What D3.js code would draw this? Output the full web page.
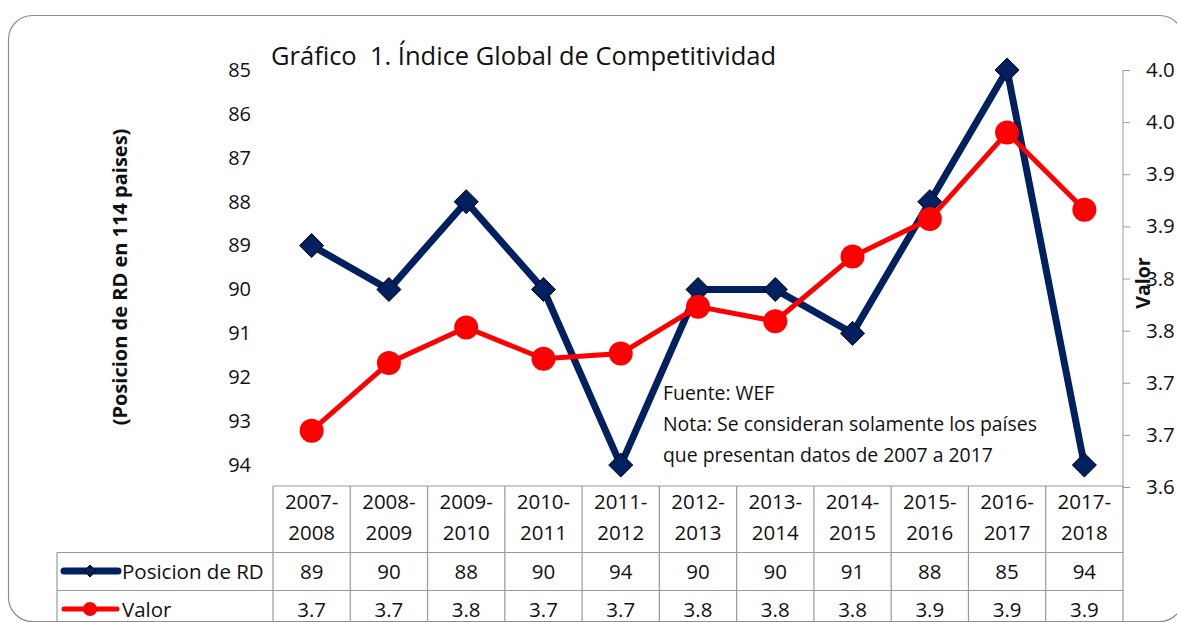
<!DOCTYPE html>
<html lang="es">
<head>
<meta charset="UTF-8" />
<title>Índice Global de Competitividad</title>
<script src="https://d3js.org/d3.v7.min.js"></script>
<style>
  body { margin: 0; background: #fff; }
  svg { font-family: "Open Sans", "Noto Sans", sans-serif; }
</style>
</head>
<body>
<script>
// datos
const periodos = ["2007-2008", "2008-2009", "2009-2010", "2010-2011", "2011-2012", "2012-2013",
                  "2013-2014", "2014-2015", "2015-2016", "2016-2017", "2017-2018"];
const posicion = [89, 90, 88, 90, 94, 90, 90, 91, 88, 85, 94];
const valor = [3.654, 3.719, 3.753, 3.723, 3.728, 3.773, 3.759, 3.821, 3.857, 3.940, 3.866];
const posTicks = [85, 86, 87, 88, 89, 90, 91, 92, 93, 94];
const valTicks = [3.6, 3.65, 3.7, 3.75, 3.8, 3.85, 3.9, 3.95, 4.0];
const valTickLabels = ["3.6", "3.7", "3.7", "3.8", "3.8", "3.9", "3.9", "4.0", "4.0"];

const W = 1177, H = 622;
const navy = "#002060", red = "#ff0000", grid = "#9a9a9a";
const fs = 20.5;

const svg = d3.select("body").append("svg").attr("width", W).attr("height", H);

// marco redondeado
svg.append("rect")
  .attr("x", 8.5).attr("y", 15.5).attr("width", 1175).attr("height", 606)
  .attr("rx", 24).attr("fill", "none").attr("stroke", "#8c8c8c").attr("stroke-width", 1.2);

const x = d3.scaleBand().domain(periodos).range([273, 1123]);
const yL = d3.scaleLinear().domain([85, 94.5]).range([70, 487]);
const yR = d3.scaleLinear().domain([3.6, 4.0]).range([487, 70]);

// titulo
svg.append("text").attr("x", 271).attr("y", 65)
  .attr("font-size", 25.5).attr("fill", "#111")
  .attr("xml:space", "preserve")
  .text("Gráfico  1. Índice Global de Competitividad");

// eje izquierdo (sin linea)
const axL = svg.append("g").attr("transform", "translate(273,0)")
  .call(d3.axisLeft(yL).tickValues(posTicks).tickSize(0).tickPadding(22));
axL.select(".domain").remove();
axL.selectAll("text").attr("font-size", 20).attr("font-family", "'Open Sans', sans-serif").attr("fill", "#111");

svg.append("text")
  .attr("transform", "translate(127,277) rotate(-90)")
  .attr("text-anchor", "middle").attr("font-size", 20).attr("font-weight", "bold")
  .attr("fill", "#111")
  .text("(Posicion de RD en 114 paises)");

// eje derecho
const axR = svg.append("g").attr("transform", "translate(1123,0)")
  .call(d3.axisRight(yR).tickValues(valTicks).tickSize(7).tickPadding(16)
    .tickFormat((d, i) => valTickLabels[i]));
axR.select(".domain").attr("stroke", grid).attr("d", "M0,70V487");
axR.selectAll("line").attr("stroke", grid);
axR.selectAll("text").attr("font-size", 20.5).attr("font-family", "'Open Sans', sans-serif").attr("fill", "#111");

svg.append("text")
  .attr("transform", "translate(1150,283) rotate(-90)")
  .attr("text-anchor", "middle").attr("font-size", 19.5).attr("font-weight", "bold")
  .attr("fill", "#111")
  .text("Valor");

// nota
const nota = ["Fuente: WEF", "Nota: Se consideran solamente los países", "que presentan datos de 2007 a 2017"];
svg.append("g").selectAll("text").data(nota).join("text")
  .attr("x", 663).attr("y", (d, i) => 400 + i * 31)
  .attr("font-size", 19.4).attr("fill", "#111")
  .text(d => d);

const cx = d => x(d) + x.bandwidth() / 2;

// serie posicion
svg.append("path")
  .datum(posicion)
  .attr("fill", "none").attr("stroke", navy).attr("stroke-width", 7).attr("stroke-linejoin", "miter")
  .attr("d", d3.line().x((d, i) => cx(periodos[i])).y(d => yL(d)));

svg.append("g").selectAll("path").data(posicion).join("path")
  .attr("transform", (d, i) => `translate(${cx(periodos[i])},${yL(d)})`)
  .attr("d", "M0,-12L12,0L0,12L-12,0Z")
  .attr("fill", navy).attr("stroke", "#000").attr("stroke-width", 1);

// serie valor
svg.append("path")
  .datum(valor)
  .attr("fill", "none").attr("stroke", red).attr("stroke-width", 5)
  .attr("d", d3.line().x((d, i) => cx(periodos[i])).y(d => yR(d)));

svg.append("g").selectAll("circle").data(valor).join("circle")
  .attr("cx", (d, i) => cx(periodos[i])).attr("cy", d => yR(d)).attr("r", 12)
  .attr("fill", red);

// tabla de datos
const tabla = svg.append("g").attr("stroke", grid).attr("stroke-width", 1.2).attr("fill", "none");
const filas = [486, 552.5, 590.5, 630];
tabla.append("line").attr("x1", 273).attr("x2", 1123).attr("y1", filas[0]).attr("y2", filas[0]);
[filas[1], filas[2]].forEach(yy =>
  tabla.append("line").attr("x1", 57).attr("x2", 1123).attr("y1", yy).attr("y2", yy));
tabla.append("line").attr("x1", 57).attr("x2", 57).attr("y1", filas[1]).attr("y2", filas[3]);
periodos.forEach(p =>
  tabla.append("line").attr("x1", x(p)).attr("x2", x(p)).attr("y1", filas[0]).attr("y2", filas[3]));
tabla.append("line").attr("x1", 1123).attr("x2", 1123).attr("y1", filas[0]).attr("y2", filas[3]);

const celdas = svg.append("g").attr("font-size", fs).attr("fill", "#111").attr("text-anchor", "middle");
periodos.forEach((p, i) => {
  const [a, b] = p.split("-");
  celdas.append("text").attr("x", cx(p)).attr("y", 508.5).text(a + "-");
  celdas.append("text").attr("x", cx(p)).attr("y", 539.5).text(b);
  celdas.append("text").attr("x", cx(p)).attr("y", 579).text(posicion[i]);
  celdas.append("text").attr("x", cx(p)).attr("y", 617).text(d3.format(".1f")(valor[i]));
});

// leyenda
const ley = svg.append("g");
ley.append("line").attr("x1", 64).attr("x2", 118).attr("y1", 571).attr("y2", 571)
  .attr("stroke", navy).attr("stroke-width", 7).attr("stroke-linecap", "round");
ley.append("path").attr("transform", "translate(90,571)").attr("d", "M0,-6L6,0L0,6L-6,0Z")
  .attr("fill", navy).attr("stroke", "#000").attr("stroke-width", 1);
ley.append("text").attr("x", 122).attr("y", 579).attr("font-size", fs).attr("fill", "#111").text("Posicion de RD");
ley.append("line").attr("x1", 64).attr("x2", 117).attr("y1", 609).attr("y2", 609)
  .attr("stroke", red).attr("stroke-width", 5).attr("stroke-linecap", "round");
ley.append("circle").attr("cx", 90).attr("cy", 609).attr("r", 7).attr("fill", red);
ley.append("text").attr("x", 122).attr("y", 617).attr("font-size", fs).attr("fill", "#111").text("Valor");
</script>
</body>
</html>
